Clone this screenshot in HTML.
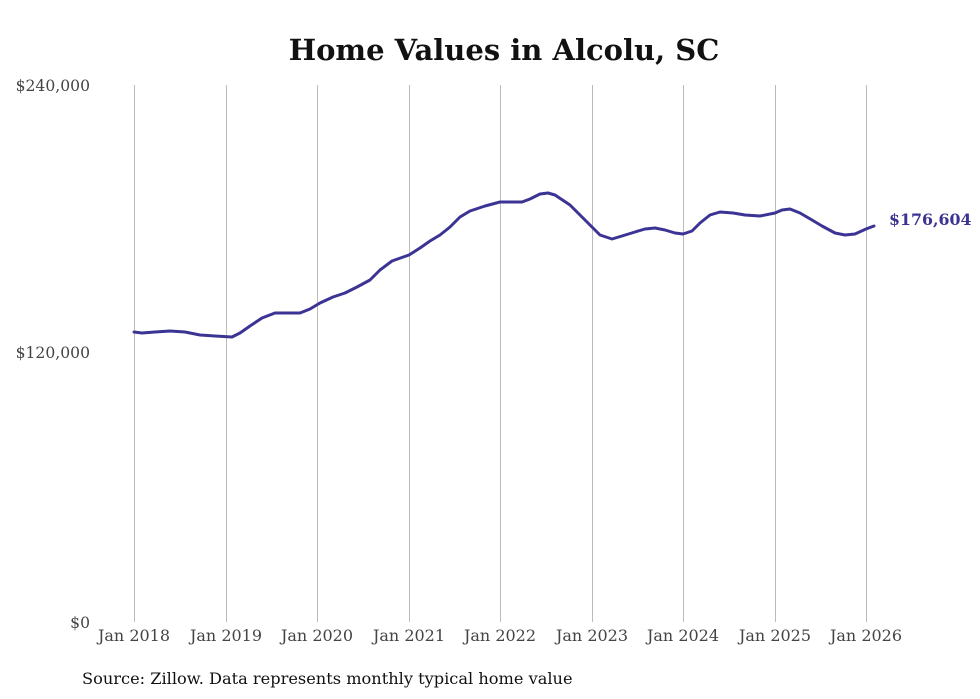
<!DOCTYPE html>
<html><head><meta charset="utf-8"><style>
body{margin:0;background:#fff;}
svg{display:block;font-family:"DejaVu Serif","Liberation Serif",serif;}
</style></head><body>
<svg width="980" height="699" viewBox="0 0 980 699">
<rect width="980" height="699" fill="#fff"/>
<text x="504" y="60" text-anchor="middle" font-size="29" font-weight="bold" fill="#111">Home Values in Alcolu, SC</text>
<g stroke="#bbb" stroke-width="1">
<line x1="134.5" y1="85" x2="134.5" y2="622"/>
<line x1="226.5" y1="85" x2="226.5" y2="622"/>
<line x1="317.5" y1="85" x2="317.5" y2="622"/>
<line x1="409.5" y1="85" x2="409.5" y2="622"/>
<line x1="500.5" y1="85" x2="500.5" y2="622"/>
<line x1="592.5" y1="85" x2="592.5" y2="622"/>
<line x1="683.5" y1="85" x2="683.5" y2="622"/>
<line x1="775.5" y1="85" x2="775.5" y2="622"/>
<line x1="866.5" y1="85" x2="866.5" y2="622"/>
</g>
<g font-size="15.6" fill="#444" text-anchor="end">
<text x="90" y="91">$240,000</text>
<text x="90" y="358">$120,000</text>
<text x="90" y="628">$0</text>
</g>
<g font-size="16" fill="#444" text-anchor="middle">
<text x="134" y="641">Jan 2018</text>
<text x="226" y="641">Jan 2019</text>
<text x="317" y="641">Jan 2020</text>
<text x="409" y="641">Jan 2021</text>
<text x="500" y="641">Jan 2022</text>
<text x="592" y="641">Jan 2023</text>
<text x="683" y="641">Jan 2024</text>
<text x="775" y="641">Jan 2025</text>
<text x="866" y="641">Jan 2026</text>
</g>
<polyline fill="none" stroke="#3b3494" stroke-width="3" stroke-linejoin="round" stroke-linecap="round" points="134,332 142,333 155,332 170,331 185,332 200,335 215,336 232,337 240,333 250,326 262,318 275,313 285,313 300,313 310,309 320,303 333,297 345,293 357,287 370,280 380,270 392,261 409,255 420,248 430,241 440,235 450,227 460,217 470,211 485,206 500,202 510,202 522,202 530,199 540,194 548,193 555,195 570,205 582,217 592,227 600,235 612,239 622,236 635,232 645,229 655,228 665,230 675,233 683,234 692,231 700,223 710,215 720,212 733,213 745,215 760,216 775,213 782,210 790,209 800,213 812,220 822,226 835,233 845,235 855,234 866,229 874,226"/>
<text x="889" y="225" font-size="15.8" font-weight="bold" fill="#3b3494">$176,604</text>
<text x="82" y="684" font-size="16.2" fill="#111">Source: Zillow. Data represents monthly typical home value</text>
</svg>
</body></html>
